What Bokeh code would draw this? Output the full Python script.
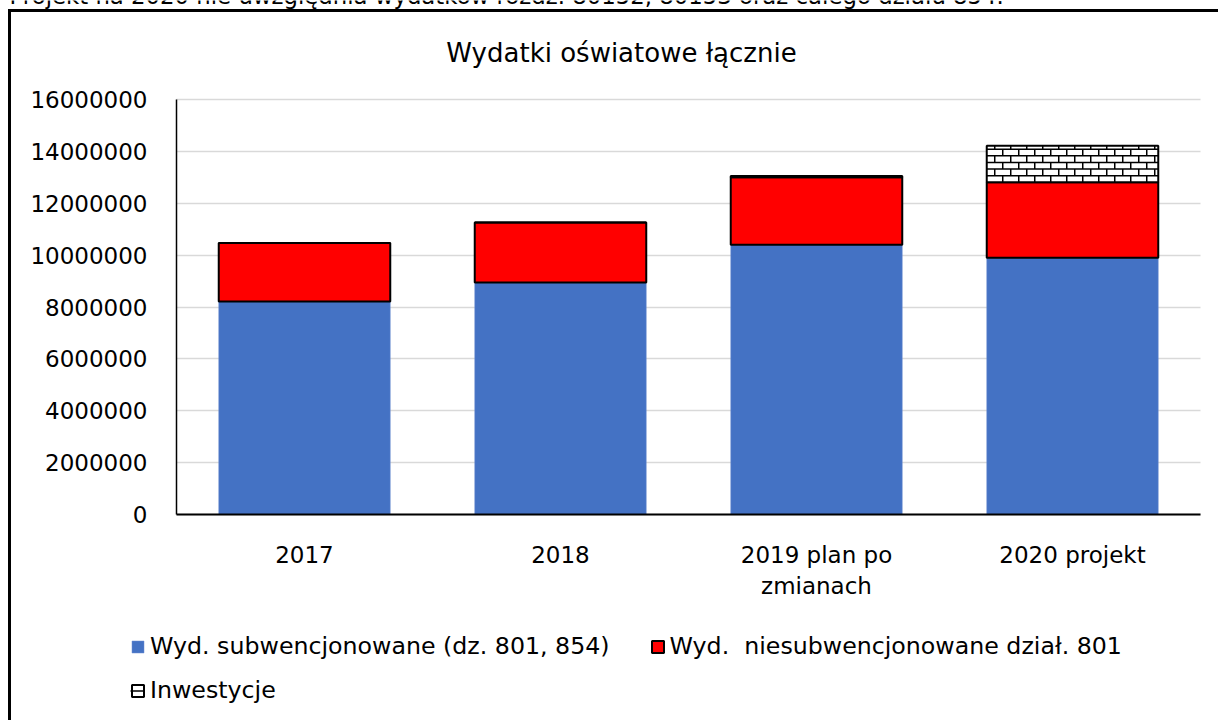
import numpy as np
from bokeh.plotting import figure
from bokeh.models import (ColumnDataSource, Range1d, Label, Legend, LegendItem, LinearAxis, Grid,
                          NumeralTickFormatter, SingleIntervalTicker, FixedTicker)
from bokeh.transform import stack
from bokeh.embed import file_html
from bokeh.resources import INLINE

# ---- data ----
categories = ["2017", "2018", "2019 plan po\nzmianach", "2020 projekt"]
subwencjonowane = [8210000, 8940000, 10400000, 9900000]
niesubwencjonowane = [2260000, 2320000, 2600000, 2910000]
inwestycje = [0, 0, 50000, 1410000]

series_names = ["Wyd. subwencjonowane (dz. 801, 854)",
                "Wyd.  niesubwencjonowane dział. 801",
                "Inwestycje"]
title_text = "Wydatki oświatowe łącznie"
note_text = "Projekt na 2020 nie uwzględnia wydatków rozdz. 80152, 80153 oraz całego działu 854."

FONT = "DejaVu Sans"
W, H = 1218, 720
# plot-area geometry in page pixels (value axis 0..16M, four category slots)
PX_L, PX_R, PX_T, PX_B = 176, 1200, 99, 514
Y_MAX = 16000000
NCAT = len(categories)
BAR_W = 0.67
ux = (PX_R - PX_L) / NCAT          # px per category slot
uy = (PX_B - PX_T) / Y_MAX         # px per unit value

xs = [i + 0.5 for i in range(NCAT)]
source = ColumnDataSource(dict(x=xs, sub=subwencjonowane, nsub=niesubwencjonowane, inw=inwestycje))

p = figure(x_range=Range1d(-PX_L / ux, NCAT + (W - PX_R) / ux),
           y_range=Range1d(-(H - PX_B) / uy, Y_MAX + PX_T / uy),
           width=W, height=H, output_backend="svg", toolbar_location=None,
           x_axis_location=None, y_axis_location=None, min_border=0)
p.title = None
p.center = [r for r in p.center if not isinstance(r, Grid)]
p.styles = {
    "background": ("linear-gradient(#000,#000) 8px 9px / 3px 100% no-repeat, "
                   "linear-gradient(#000,#000) 8px 9px / 100% 3px no-repeat, #fff"),
}
p.outline_line_color = None
p.background_fill_color = None
p.border_fill_color = None

# grid
ticker = SingleIntervalTicker(interval=2000000)
p.add_layout(Grid(dimension=1, ticker=ticker, bounds=(0, Y_MAX), cross_bounds=(0, NCAT),
                  grid_line_color="#d9d9d9", grid_line_width=1.5))

r_sub = p.vbar(x="x", width=BAR_W, bottom=0, top=stack("sub"), source=source,
               fill_color="#4472C4", line_color="#6f8fd0", line_width=0.5)
r_nsub = p.vbar(x="x", width=BAR_W, bottom=stack("sub"), top=stack("sub", "nsub"), source=source,
                fill_color="#FF0000", line_color="black", line_width=2)
r_inw = p.vbar(x="x", width=BAR_W, bottom=stack("sub", "nsub"), top=stack("sub", "nsub", "inw"),
               source=source, fill_color="white", line_color="black", line_width=2)

# brick texture of the "Inwestycje" segment (derived from the stacked values)
ROW_PX, BRICK_PX = 6.6, 16.0
rh, bw = ROW_PX / uy, BRICK_PX / ux
sx0, sy0, sx1, sy1 = [], [], [], []
for i in range(NCAT):
    lo = subwencjonowane[i] + niesubwencjonowane[i]
    hi = lo + inwestycje[i]
    if hi - lo < rh:
        continue
    left, right = xs[i] - BAR_W / 2, xs[i] + BAR_W / 2
    r = 0
    y = lo
    while y < hi:
        y_next = min(y + rh, hi)
        if y > lo:
            sx0.append(left); sx1.append(right); sy0.append(y); sy1.append(y)
        off = bw / 2 if r % 2 else bw
        for xv in np.arange(left + off, right, bw):
            sx0.append(xv); sx1.append(xv); sy0.append(y); sy1.append(y_next)
        y = y_next
        r += 1
r_brick = p.segment(x0=sx0, y0=sy0, x1=sx1, y1=sy1, line_color="black", line_width=1.5)

# axes at fixed positions
yaxis = LinearAxis(fixed_location=0, bounds=(0, Y_MAX), ticker=ticker,
                   formatter=NumeralTickFormatter(format="0"))
xaxis = LinearAxis(fixed_location=0, bounds=(0, NCAT), ticker=FixedTicker(ticks=xs),
                   major_label_overrides={x: c for x, c in zip(xs, categories)})
for ax in (xaxis, yaxis):
    ax.major_label_text_font = FONT
    ax.major_label_text_font_size = "23px"
    ax.major_label_text_color = "black"
    ax.major_tick_line_color = None
    ax.minor_tick_line_color = None
    ax.axis_line_color = "black"
yaxis.axis_line_width = 1.5
xaxis.axis_line_width = 2
yaxis.major_label_standoff = 23
xaxis.major_label_standoff = 21
p.add_layout(yaxis, "left")
p.add_layout(xaxis, "below")

# title and (cut-off) note
p.add_layout(Label(x=(621 - PX_L) / ux, y=(PX_B - 52) / uy, text=title_text,
                   text_align="center", text_baseline="middle", text_font=FONT,
                   text_font_size="26px", text_color="black"))
p.add_layout(Label(x=(9 - PX_L) / ux, y=(PX_B + 5) / uy, text=note_text,
                   text_align="left", text_baseline="middle", text_font=FONT,
                   text_font_size="22.8px", text_color="black"))

# legends
def style_legend(lg):
    lg.label_text_font = FONT
    lg.label_text_font_size = "23.7px"
    lg.label_text_color = "black"
    lg.glyph_width = 15
    lg.glyph_height = 15
    lg.label_standoff = 5
    lg.label_height = 30
    lg.padding = 0
    lg.margin = 0
    lg.border_line_color = None
    lg.background_fill_alpha = 0

leg1 = Legend(items=[LegendItem(label=series_names[0], renderers=[r_sub]),
                     LegendItem(label=series_names[1], renderers=[r_nsub])],
              orientation="horizontal", spacing=40, location=(130, H - 661))
leg2 = Legend(items=[LegendItem(label=series_names[2], renderers=[r_inw, r_brick])],
              orientation="horizontal", location=(130, H - 705))
style_legend(leg1)
style_legend(leg2)
p.add_layout(leg1, "center")
p.add_layout(leg2, "center")

open("out.html", "w").write(file_html(p, INLINE))
